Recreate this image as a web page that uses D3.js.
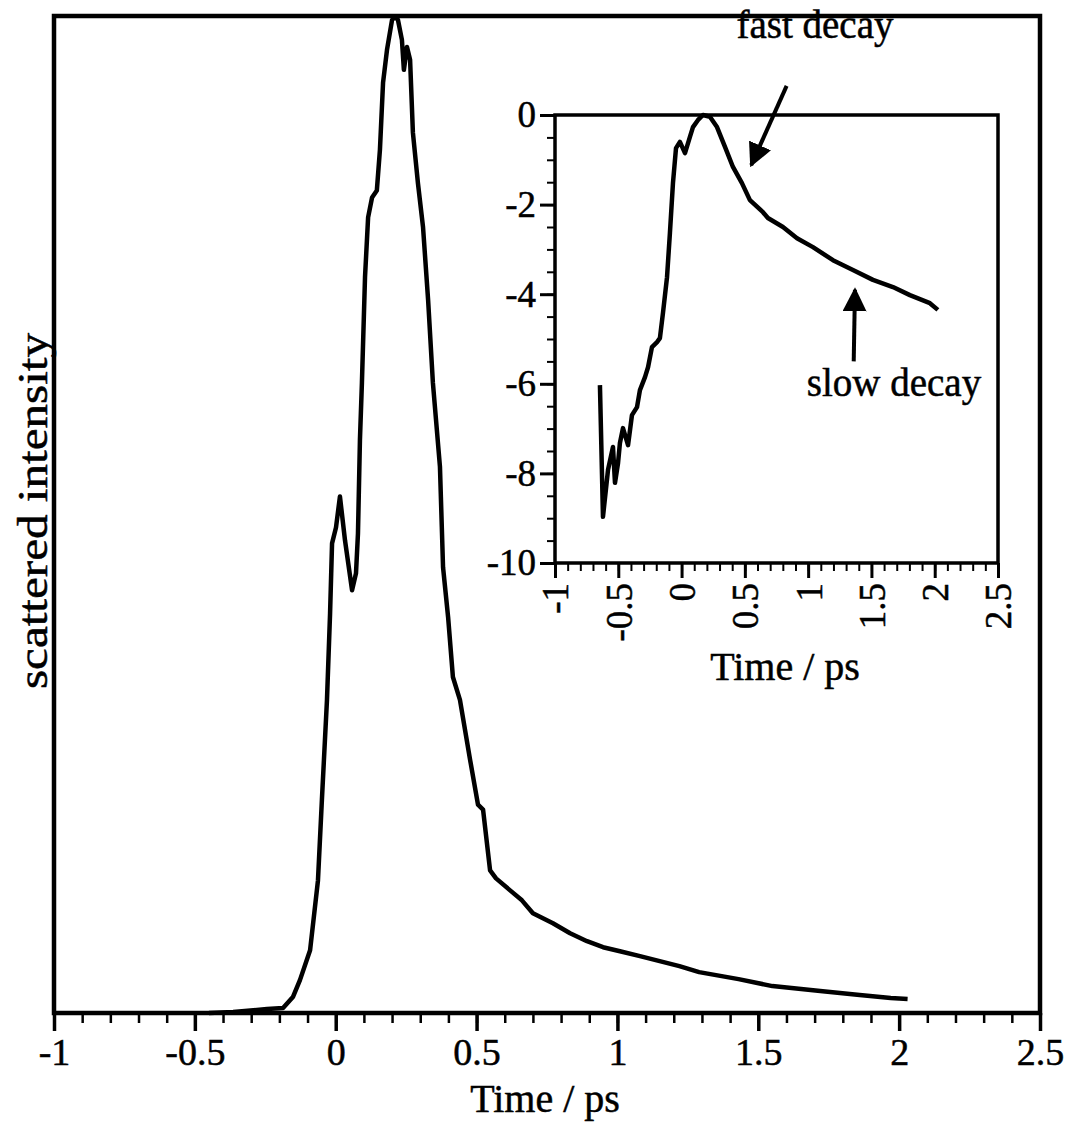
<!DOCTYPE html>
<html>
<head>
<meta charset="utf-8">
<script src="https://cdn.jsdelivr.net/npm/d3@7"></script>
<style>
  body { margin: 0; background: #fff; }
  text { font-family: "Liberation Serif", "Times New Roman", serif; fill: #000; stroke: #000; stroke-width: 0.5; }
</style>
</head>
<body>
<div id="chart"></div>
<script>
// main trace: time (ps) vs normalised scattered intensity
var mainTime = [-0.45, -0.364, -0.244, -0.187, -0.152, -0.127, -0.091, -0.063, -0.049, -0.031,
  -0.020, -0.013, 0.001, 0.015, 0.033, 0.058, 0.072, 0.079, 0.086, 0.093,
  0.104, 0.115, 0.129, 0.146, 0.157, 0.168, 0.182, 0.200, 0.210, 0.221,
  0.235, 0.242, 0.253, 0.264, 0.274, 0.292, 0.310, 0.328, 0.345, 0.370,
  0.381, 0.399, 0.416, 0.441, 0.477, 0.505, 0.523, 0.548, 0.569, 0.619,
  0.661, 0.700, 0.771, 0.832, 0.892, 0.949, 1.009, 1.08, 1.15, 1.22,
  1.29, 1.43, 1.55, 1.72, 1.86, 1.97, 2.03];
var mainIntensity = [0, 0.001, 0.004, 0.005, 0.016, 0.033, 0.063, 0.133, 0.214, 0.314,
  0.401, 0.471, 0.487, 0.518, 0.474, 0.424, 0.441, 0.481, 0.575, 0.632,
  0.738, 0.798, 0.818, 0.825, 0.866, 0.933, 0.966, 0.996, 0.999, 0.996,
  0.976, 0.946, 0.969, 0.956, 0.883, 0.832, 0.788, 0.715, 0.632, 0.548,
  0.447, 0.397, 0.337, 0.314, 0.254, 0.209, 0.204, 0.143, 0.135, 0.123,
  0.113, 0.100, 0.090, 0.080, 0.072, 0.066, 0.062, 0.057, 0.052, 0.047,
  0.041, 0.034, 0.027, 0.022, 0.018, 0.015, 0.014];

// inset trace: log of intensity
var insetTime = [-0.645, -0.621, -0.581, -0.542, -0.526, -0.502, -0.487, -0.463, -0.423, -0.392,
  -0.352, -0.329, -0.289, -0.265, -0.234, -0.194, -0.171, -0.147, -0.115, -0.092,
  -0.068, -0.044, -0.013, 0.027, 0.066, 0.090, 0.130, 0.169, 0.224, 0.280,
  0.343, 0.406, 0.477, 0.540, 0.643, 0.682, 0.801, 0.912, 1.038, 1.196,
  1.354, 1.512, 1.670, 1.804, 1.962, 2.025];
var insetLog = [-6.03, -8.97, -7.92, -7.41, -8.21, -7.77, -7.32, -6.99, -7.37, -6.70,
  -6.52, -6.14, -5.85, -5.63, -5.18, -5.07, -4.98, -4.42, -3.62, -2.63,
  -1.52, -0.74, -0.60, -0.85, -0.49, -0.27, -0.11, 0, -0.04, -0.27,
  -0.71, -1.16, -1.52, -1.90, -2.17, -2.30, -2.50, -2.75, -2.95, -3.24,
  -3.46, -3.68, -3.84, -4.02, -4.20, -4.35];

var mainTicks = [-1, -0.5, 0, 0.5, 1, 1.5, 2, 2.5];
var insetXTicks = [-1, -0.5, 0, 0.5, 1, 1.5, 2, 2.5];
var insetYTicks = [0, -2, -4, -6, -8, -10];

var svgWidth = 1080;
var svgHeight = 1122;

var svg = d3.select("#chart")
  .append("svg")
  .attr("width", svgWidth)
  .attr("height", svgHeight);

// ---------- main plot ----------
var main = { left: 54, right: 1040, top: 16, bottom: 1013 };

var xMain = d3.scaleLinear().domain([-1, 2.5]).range([main.left, main.right]);
var yMain = d3.scaleLinear().domain([0, 1]).range([main.bottom, main.top]);

var minorMain = d3.range(-1, 2.5001, 0.1).map(v => Math.round(v * 10) / 10);

svg.append("g")
  .attr("transform", `translate(0, ${main.bottom})`)
  .call(d3.axisBottom(xMain).tickValues(minorMain).tickSize(10).tickFormat(""))
  .call(g => g.select(".domain").remove())
  .call(g => g.selectAll("line").attr("stroke", "#000").attr("stroke-width", 2.5));

svg.append("g")
  .attr("transform", `translate(0, ${main.bottom})`)
  .call(d3.axisBottom(xMain).tickValues(mainTicks).tickSize(18).tickPadding(7)
    .tickFormat(d => d))
  .call(g => g.select(".domain").remove())
  .call(g => g.selectAll("line").attr("stroke", "#000").attr("stroke-width", 3.5))
  .call(g => g.selectAll("text").attr("font-size", 38)
    .style("font-family", "'Liberation Serif', serif"));

svg.append("rect")
  .attr("x", main.left)
  .attr("y", main.top)
  .attr("width", main.right - main.left)
  .attr("height", main.bottom - main.top)
  .attr("fill", "none")
  .attr("stroke", "#000")
  .attr("stroke-width", 4.5);

var mainData = mainTime.map((t, i) => [t, mainIntensity[i]]);

svg.append("path")
  .datum(mainData)
  .attr("fill", "none")
  .attr("stroke", "#000")
  .attr("stroke-width", 4.5)
  .attr("stroke-linejoin", "round")
  .attr("d", d3.line().x(d => xMain(d[0])).y(d => yMain(d[1])));

svg.append("text")
  .attr("x", 545)
  .attr("y", 1112)
  .attr("text-anchor", "middle")
  .attr("font-size", 40)
  .text("Time / ps");

svg.append("text")
  .attr("transform", `translate(47, 511) rotate(-90)`)
  .attr("text-anchor", "middle")
  .attr("font-size", 42)
  .attr("textLength", 356)
  .attr("lengthAdjust", "spacingAndGlyphs")
  .text("scattered intensity");

// ---------- inset ----------
var inset = { left: 555, right: 998, top: 115, bottom: 563 };

var xIn = d3.scaleLinear().domain([-1, 2.5]).range([inset.left, inset.right]);
var yIn = d3.scaleLinear().domain([-10, 0]).range([inset.bottom, inset.top]);

var minorInX = d3.range(-1, 2.5001, 0.1).map(v => Math.round(v * 10) / 10);
var minorInY = d3.range(-10, 0.001, 0.5);

var insetG = svg.append("g");

insetG.append("g")
  .attr("transform", `translate(0, ${inset.bottom})`)
  .call(d3.axisBottom(xIn).tickValues(minorInX).tickSize(8).tickFormat(""))
  .call(g => g.select(".domain").remove())
  .call(g => g.selectAll("line").attr("stroke", "#000").attr("stroke-width", 2));

insetG.append("g")
  .attr("transform", `translate(0, ${inset.bottom})`)
  .call(d3.axisBottom(xIn).tickValues(insetXTicks).tickSize(15).tickFormat(d => d))
  .call(g => g.select(".domain").remove())
  .call(g => g.selectAll("line").attr("stroke", "#000").attr("stroke-width", 3))
  .call(g => g.selectAll("text")
    .attr("font-size", 37)
    .style("font-family", "'Liberation Serif', serif")
    .attr("transform", "rotate(-90)")
    .attr("x", -20)
    .attr("y", 0)
    .attr("dy", "0.35em")
    .attr("text-anchor", "end"));

insetG.append("g")
  .attr("transform", `translate(${inset.left}, 0)`)
  .call(d3.axisLeft(yIn).tickValues(minorInY).tickSize(8).tickFormat(""))
  .call(g => g.select(".domain").remove())
  .call(g => g.selectAll("line").attr("stroke", "#000").attr("stroke-width", 2));

insetG.append("g")
  .attr("transform", `translate(${inset.left}, 0)`)
  .call(d3.axisLeft(yIn).tickValues(insetYTicks).tickSize(15).tickPadding(4).tickFormat(d => d))
  .call(g => g.select(".domain").remove())
  .call(g => g.selectAll("line").attr("stroke", "#000").attr("stroke-width", 3))
  .call(g => g.selectAll("text").attr("font-size", 37)
    .style("font-family", "'Liberation Serif', serif"));

insetG.append("rect")
  .attr("x", inset.left)
  .attr("y", inset.top)
  .attr("width", inset.right - inset.left)
  .attr("height", inset.bottom - inset.top)
  .attr("fill", "none")
  .attr("stroke", "#000")
  .attr("stroke-width", 3.5);

var insetData = insetTime.map((t, i) => [t, insetLog[i]]);

insetG.append("path")
  .datum(insetData)
  .attr("fill", "none")
  .attr("stroke", "#000")
  .attr("stroke-width", 4.5)
  .attr("stroke-linejoin", "round")
  .attr("d", d3.line().x(d => xIn(d[0])).y(d => yIn(d[1])));

insetG.append("text")
  .attr("x", 785)
  .attr("y", 680)
  .attr("text-anchor", "middle")
  .attr("font-size", 40)
  .text("Time / ps");

// annotations
svg.append("defs").append("marker")
  .attr("id", "head")
  .attr("viewBox", "0 0 10 10")
  .attr("refX", 9)
  .attr("refY", 5)
  .attr("markerWidth", 6)
  .attr("markerHeight", 6)
  .attr("markerUnits", "strokeWidth")
  .attr("orient", "auto")
  .append("path")
  .attr("d", "M0,0 L10,5 L0,10 Z")
  .attr("fill", "#000");

insetG.append("line")
  .attr("x1", xIn(0.83)).attr("y1", yIn(0.65))
  .attr("x2", xIn(0.55)).attr("y2", yIn(-1.12))
  .attr("stroke", "#000")
  .attr("stroke-width", 4)
  .attr("marker-end", "url(#head)");

insetG.append("line")
  .attr("x1", xIn(1.36)).attr("y1", yIn(-5.5))
  .attr("x2", xIn(1.37)).attr("y2", yIn(-3.9))
  .attr("stroke", "#000")
  .attr("stroke-width", 4)
  .attr("marker-end", "url(#head)");

insetG.append("text")
  .attr("x", 815)
  .attr("y", 38)
  .attr("text-anchor", "middle")
  .attr("font-size", 39)
  .text("fast decay");

insetG.append("text")
  .attr("x", 894)
  .attr("y", 396)
  .attr("text-anchor", "middle")
  .attr("font-size", 39)
  .text("slow decay");
</script>
</body>
</html>
